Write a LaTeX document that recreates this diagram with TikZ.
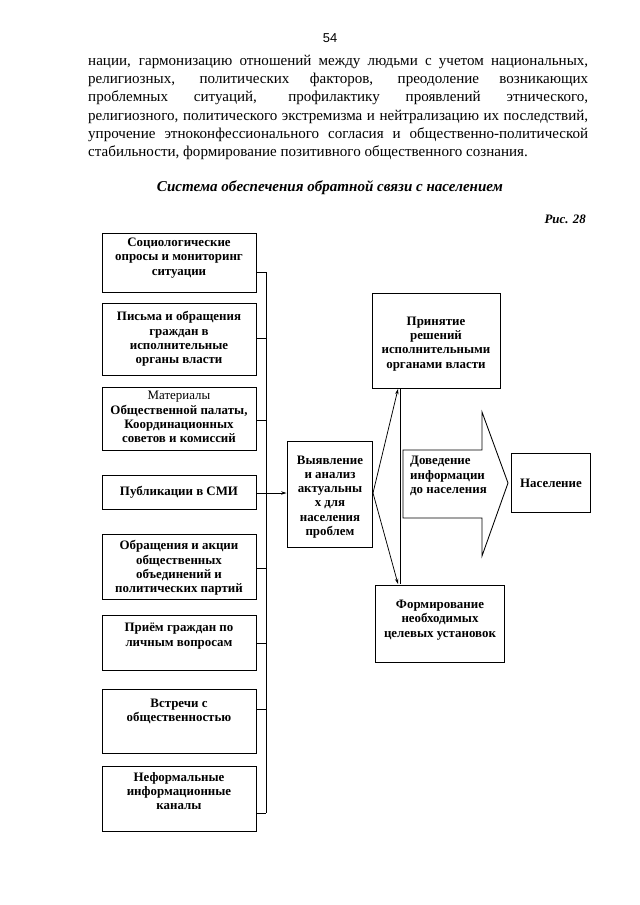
\documentclass[tikz,border=0pt]{standalone}
\usepackage{fontspec}
\setmainfont{Liberation Serif}
\newfontfamily\pgnumfont{Liberation Sans}
\usetikzlibrary{arrows.meta,fit}
\tikzset{
  box/.style={draw, line width=0.9pt, inner sep=0pt},
  btxt/.style={font=\fontsize{12}{13.2}\selectfont\bfseries, align=center, inner sep=0pt},
  bodyline/.style={font=\fontsize{14}{16}\selectfont, anchor=base west, inner sep=0pt},
  conn/.style={line width=0.7pt},
  arr/.style={line width=0.7pt, -{Stealth[length=5pt,width=3.2pt]}},
}
\begin{document}
\begin{tikzpicture}[x=0.93pt,y=-0.93pt]
\path[fill=white,use as bounding box] (0,0) rectangle (640,905);

% page number and body text
\node[font=\pgnumfont\fontsize{12}{14}\selectfont, anchor=base, inner sep=0pt] (pg) at (330,42) {54};
\node[bodyline] (l1) at (88,65) {\makebox[465pt][s]{нации, гармонизацию отношений между людьми с учетом национальных,}};
\node[bodyline] (l2) at (88,83) {\makebox[465pt][s]{религиозных, политических факторов, преодоление возникающих}};
\node[bodyline] (l3) at (88,101) {\makebox[465pt][s]{проблемных ситуаций, профилактику проявлений этнического,}};
\node[bodyline] (l4) at (88,120) {\makebox[465pt][s]{религиозного, политического экстремизма и нейтрализацию их последствий,}};
\node[bodyline] (l5) at (88,138) {\makebox[465pt][s]{упрочение этноконфессионального согласия и общественно-политической}};
\node[bodyline] (l6) at (88,156) {стабильности, формирование позитивного общественного сознания.};

\node[font=\fontsize{14}{16}\selectfont\bfseries\itshape, anchor=base, inner sep=0pt] (title) at (330,191) {Система обеспечения обратной связи с населением};
\node[font=\fontsize{12}{14}\selectfont\bfseries\itshape, anchor=base east, inner sep=0pt] (fig) at (586,223) {Рис. 28};

% left boxes
\node[box, fit={(102,233)(256,292)}] (b1) {};
\node[box, fit={(102,303)(256,375)}] (b2) {};
\node[box, fit={(102,387)(256,450)}] (b3) {};
\node[box, fit={(102,475)(256,509)}] (b4) {};
\node[box, fit={(102,534)(256,599)}] (b5) {};
\node[box, fit={(102,615)(256,670)}] (b6) {};
\node[box, fit={(102,689)(256,753)}] (b7) {};
\node[box, fit={(102,766)(256,831)}] (b8) {};

\node[btxt] (t1) at (179,258) {Социологические\\опросы и мониторинг\\ситуации};
\node[btxt] (t2) at (179,339) {Письма и обращения\\граждан в\\исполнительные\\органы власти};
\node[btxt] (t3) at (179,417) {\mdseries Материалы\\Общественной палаты,\\Координационных\\советов и комиссий};
\node[btxt] (t4) at (179,492) {Публикации в СМИ};
\node[btxt] (t5) at (179,568) {Обращения и акции\\общественных\\объединений и\\политических партий};
\node[btxt] (t6) at (179,636) {Приём граждан по\\личным вопросам};
\node[btxt] (t7) at (179,711) {Встречи с\\общественностью};
\node[btxt] (t8) at (179,791) {Неформальные\\информационные\\каналы};

% bus
\coordinate (bus1) at (266,272);
\coordinate (bus2) at (266,338);
\coordinate (bus3) at (266,420);
\coordinate (bus4) at (266,493);
\coordinate (bus5) at (266,568);
\coordinate (bus6) at (266,643);
\coordinate (bus7) at (266,709);
\coordinate (bus8) at (266,813);
\draw[conn] (bus1) -- (bus8);
\draw[conn] (b1.east |- bus1) -- (bus1);
\draw[conn] (b2.east |- bus2) -- (bus2);
\draw[conn] (b3.east |- bus3) -- (bus3);
\draw[conn] (b4.east |- bus4) -- (bus4);
\draw[conn] (b5.east |- bus5) -- (bus5);
\draw[conn] (b6.east |- bus6) -- (bus6);
\draw[conn] (b7.east |- bus7) -- (bus7);
\draw[conn] (b8.east |- bus8) -- (bus8);

% middle box
\node[box, fit={(287,441)(372,547)}] (m) {};
\node[btxt] (mt) at (330,497) {Выявление\\и анализ\\актуальны\\х для\\населения\\проблем};
\draw[arr] (bus4) -- (m.west |- bus4);

% top and bottom right boxes
\node[box, fit={(372,293)(500,388)}] (top) {};
\node[btxt] (topt) at (436,344) {Принятие\\решений\\исполнительными\\органами власти};
\node[box, fit={(375,585)(504,662)}] (bot) {};
\node[btxt] (bott) at (440,620) {Формирование\\необходимых\\целевых установок};

\coordinate (apex) at (373,493);
\coordinate (tipT) at (398,389);
\coordinate (tipB) at (398,584);
\draw[arr] (apex) -- (tipT);
\draw[arr] (apex) -- (tipB);
\draw[conn] (400,389) -- (400,584);

% big arrow
\draw[line width=0.8pt, line join=miter] (403,450) -- (482,450) -- (482,412) -- (508,483) -- (482,556) -- (482,518) -- (403,518) -- cycle;
\node[btxt, align=left, anchor=west] (at) at (410,476) {Доведение\\информации\\до населения};

\node[box, fit={(511,453)(590,512)}] (pop) {};
\node[btxt] (popt) at (551,483) {Население};
\end{tikzpicture}
\end{document}
